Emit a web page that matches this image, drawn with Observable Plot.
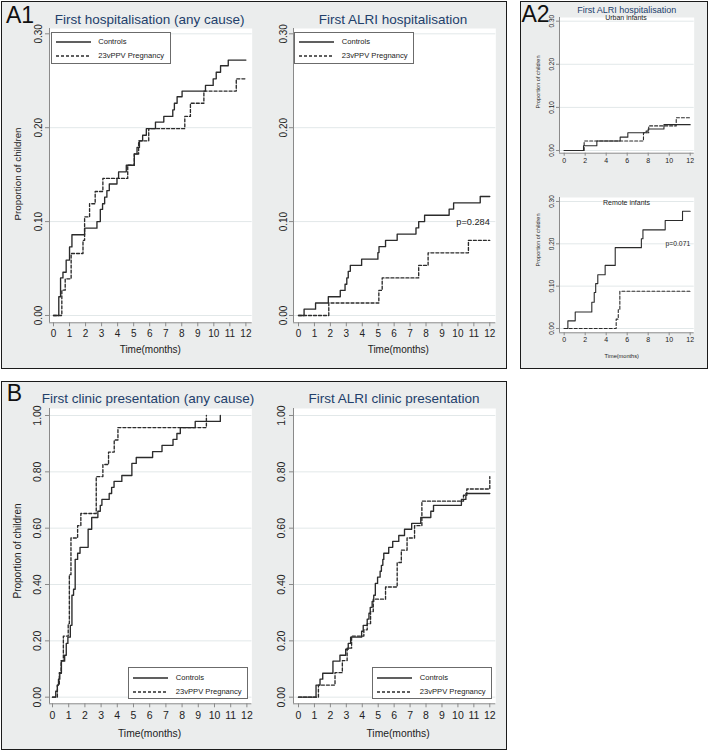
<!DOCTYPE html>
<html><head><meta charset="utf-8">
<script src="https://cdn.jsdelivr.net/npm/d3@7"></script>
<script src="https://cdn.jsdelivr.net/npm/@observablehq/plot@0.6"></script>
<style>
body{margin:0;background:#fff;}
#root{position:relative;width:709px;height:751px;overflow:hidden;font-family:"Liberation Sans",Arial,Helvetica,sans-serif;}
.box{position:absolute;box-sizing:border-box;border:1.5px solid #1b1b1b;background:#ebeded;}
.lbl{position:absolute;white-space:nowrap;line-height:1;transform:translate(-50%,-50%);}
.leg{position:absolute;box-sizing:border-box;border:1px solid #6b6b6b;background:#fff;}
#root svg{position:absolute;}
</style></head><body><div id="root"></div><script>
// ---------- data ----------
const seriesNames = ["Controls", "23vPPV Pregnancy"];
const monthTicks = [0,1,2,3,4,5,6,7,8,9,10,11,12];
const monthTicksA2 = [0,2,4,6,8,10,12];
const hospTicks = [0, 0.1, 0.2, 0.3];
const clinicTicks = [0, 0.2, 0.4, 0.6, 0.8, 1.0];
const titleA1Any = "First hospitalisation (any cause)";
const titleA1Alri = "First ALRI hospitalisation";
const titleA2 = "First ALRI hospitalisation";
const titleA2Urban = "Urban infants";
const titleA2Remote = "Remote infants";
const titleBAny = "First clinic presentation (any cause)";
const titleBAlri = "First ALRI clinic presentation";
const xLabel = "Time(months)";
const yLabel = "Proportion of children";
const pNotes = [{panel: "A1alri", text: "p=0.284", t: 12, p: 0.10}, {panel: "A2remote", text: "p=0.071", t: 12, p: 0.20}];

// [month, cumulative proportion]
const a1AnyControls = [[0,0],[0.33,0.02],[0.44,0.04],[0.59,0.046],[0.79,0.059],[1.0,0.073],[1.15,0.086],[1.94,0.093],[2.71,0.1],[2.92,0.113],[3.06,0.119],[3.19,0.126],[3.33,0.133],[3.48,0.14],[3.96,0.146],[4.06,0.153],[4.54,0.16],[5.04,0.172],[5.21,0.179],[5.36,0.186],[5.56,0.192],[5.79,0.199],[6.36,0.206],[6.88,0.212],[7.44,0.219],[7.54,0.226],[7.71,0.233],[8.02,0.239],[9.48,0.245],[9.96,0.252],[10.15,0.259],[10.42,0.266],[10.9,0.272],[12,0.272]];
const a1AnyVaccine = [[0,0],[0.52,0.027],[0.73,0.039],[1.1,0.066],[1.84,0.08],[1.94,0.105],[2.25,0.119],[2.6,0.132],[3.08,0.146],[4.63,0.16],[5.04,0.172],[5.31,0.186],[5.94,0.199],[8.19,0.212],[8.54,0.226],[9.38,0.239],[11.4,0.252],[12,0.252]];
const a1AlriControls = [[0,0],[0.35,0.0067],[1.07,0.0133],[1.87,0.02],[2.62,0.0267],[2.92,0.0333],[3.03,0.04],[3.12,0.047],[3.25,0.0533],[3.96,0.06],[4.98,0.067],[5.05,0.0733],[5.46,0.08],[6.19,0.0867],[7.37,0.0933],[7.54,0.1],[7.91,0.1067],[9.45,0.1133],[9.73,0.12],[11.4,0.1267],[12,0.1267]];
const a1AlriVaccine = [[0,0],[1.9,0.0133],[5.04,0.0267],[5.25,0.04],[7.54,0.0533],[8.13,0.0667],[10.66,0.08],[12,0.08]];
const a2UrbanControls = [[0,0],[1.84,0.011],[3.11,0.022],[5.33,0.031],[6.06,0.041],[7.8,0.045],[8.0,0.05],[9.5,0.06],[12,0.06]];
const a2UrbanVaccine = [[0,0],[1.9,0.022],[7.55,0.041],[8.05,0.057],[10.67,0.076],[12,0.076]];
const a2RemoteControls = [[0,0],[0.35,0.018],[1.05,0.039],[2.63,0.062],[2.86,0.085],[3.0,0.106],[3.2,0.127],[3.9,0.149],[4.86,0.191],[7.35,0.212],[7.5,0.233],[9.62,0.255],[11.27,0.277],[12,0.277]];
const a2RemoteVaccine = [[0,0],[4.95,0.022],[5.15,0.044],[5.3,0.088],[12,0.088]];
const bAnyControls = [[0,0],[0.2,0.021],[0.3,0.043],[0.37,0.064],[0.45,0.085],[0.55,0.128],[0.75,0.149],[0.85,0.191],[0.95,0.213],[1.1,0.255],[1.2,0.362],[1.3,0.383],[1.4,0.489],[1.55,0.511],[1.7,0.532],[2.2,0.596],[2.42,0.638],[2.8,0.66],[2.95,0.681],[3.05,0.702],[3.5,0.723],[3.65,0.745],[3.8,0.766],[4.28,0.787],[4.9,0.83],[5.17,0.851],[6.18,0.872],[6.76,0.894],[7.44,0.915],[7.68,0.936],[7.89,0.957],[8.81,0.979],[10.36,1.0]];
const bAnyVaccine = [[0,0],[0.3,0.043],[0.42,0.087],[0.53,0.13],[0.67,0.217],[0.97,0.261],[1.04,0.435],[1.14,0.565],[1.55,0.609],[1.75,0.652],[2.7,0.783],[3.11,0.826],[3.46,0.87],[3.81,0.913],[4.04,0.957],[9.5,1.0]];
const bAlriControls = [[0,0],[1.1,0.043],[1.35,0.064],[1.52,0.085],[2.16,0.128],[2.6,0.149],[2.96,0.17],[3.12,0.191],[3.27,0.213],[3.96,0.234],[4.06,0.255],[4.31,0.277],[4.42,0.298],[4.5,0.319],[4.62,0.34],[4.72,0.362],[4.82,0.404],[4.96,0.426],[5.12,0.447],[5.2,0.468],[5.29,0.489],[5.35,0.511],[5.66,0.532],[5.91,0.553],[6.29,0.574],[6.65,0.596],[7.1,0.617],[7.67,0.638],[8.3,0.66],[8.47,0.681],[10.22,0.702],[10.5,0.723],[12,0.723]];
const bAlriVaccine = [[0,0],[1.25,0.043],[2.29,0.087],[2.75,0.13],[3.05,0.174],[3.33,0.217],[4.1,0.239],[4.31,0.261],[4.52,0.304],[4.69,0.348],[5.46,0.391],[6.19,0.478],[6.45,0.522],[6.81,0.565],[7.28,0.609],[7.74,0.696],[10.35,0.717],[10.56,0.739],[12,0.783]];

// ---------- layout helpers ----------
const root = document.getElementById("root");
const FONT = '"Liberation Sans", Arial, Helvetica, sans-serif';
const NAVY = "#22406b";

function addBox(l, t, w, h) {
  const d = document.createElement("div");
  d.className = "box";
  Object.assign(d.style, {left: l + "px", top: t + "px", width: w + "px", height: h + "px"});
  root.append(d);
}
function addLabel(text, cx, cy, size, opts = {}) {
  const d = document.createElement("div");
  d.className = "lbl";
  d.textContent = text;
  d.style.left = cx + "px";
  d.style.top = cy + "px";
  d.style.fontSize = size + "px";
  d.style.color = opts.color || "#222";
  if (opts.rotate) d.style.transform = "translate(-50%,-50%) rotate(-90deg)";
  root.append(d);
}
function addLegend(l, t) {
  const w = 120, h = 32;
  const d = document.createElement("div");
  d.className = "leg";
  Object.assign(d.style, {left: l + "px", top: t + "px", width: w + "px", height: h + "px"});
  const rows = [9.5, 23.5];
  seriesNames.forEach((name, i) => {
    const ns = "http://www.w3.org/2000/svg";
    const s = document.createElementNS(ns, "svg");
    s.setAttribute("width", 36); s.setAttribute("height", 4);
    s.style.position = "absolute"; s.style.left = "4px"; s.style.top = (rows[i] - 2) + "px";
    const ln = document.createElementNS(ns, "line");
    ln.setAttribute("x1", 0); ln.setAttribute("x2", 35); ln.setAttribute("y1", 2); ln.setAttribute("y2", 2);
    ln.setAttribute("stroke", "#2b2b2b"); ln.setAttribute("stroke-width", 1.4);
    if (i === 1) ln.setAttribute("stroke-dasharray", "3,2");
    s.append(ln); d.append(s);
    const tx = document.createElement("div");
    tx.textContent = name;
    Object.assign(tx.style, {position: "absolute", left: "46.5px", top: rows[i] + "px", transform: "translateY(-50%)", fontSize: "7.6px", lineHeight: "1", color: "#222", whiteSpace: "nowrap"});
    d.append(tx);
  });
  root.append(d);
}

function kmPanel(cfg) {
  const {reg, x0, x12, y0, yRefPx, yRefVal, xTicks, yTicks, controls, vaccine, fsX, fsY, tickSize, padX, padY, lw, note, noteSize} = cfg;
  const pxM = (x12 - x0) / 12, pxV = (y0 - yRefPx) / yRefVal;
  const xDom = [(reg.l - x0) / pxM, (reg.r - x0) / pxM];
  const yDom = [(y0 - reg.b) / pxV, (y0 - reg.t) / pxV];
  const m = {l: 34, r: 6, t: 4, b: 24};
  const w = reg.r - reg.l + m.l + m.r, h = reg.b - reg.t + m.t + m.b;
  const marks = [
    Plot.frame({fill: "white", stroke: "none"}),
    Plot.ruleY(yTicks, {stroke: "#e2e8e9", strokeWidth: 1}),
    Plot.line(controls, {x: d => d[0], y: d => d[1], curve: "step-after", stroke: "#2b2b2b", strokeWidth: lw}),
    Plot.line(vaccine, {x: d => d[0], y: d => d[1], curve: "step-after", stroke: "#2b2b2b", strokeWidth: lw, strokeDasharray: "3,2"}),
    Plot.ruleX([xDom[0]], {stroke: "#8a8a8a"}),
    Plot.ruleY([yDom[0]], {stroke: "#8a8a8a"}),
    Plot.axisY(yTicks, {anchor: "left", tickSize, tickPadding: padY, tickRotate: -90, tickFormat: d3.format(".2f"), fontSize: fsY, stroke: "#8a8a8a", fill: "#222", label: null}),
    Plot.axisX(xTicks, {anchor: "bottom", tickSize, tickPadding: padX, tickFormat: d => String(d), fontSize: fsX, stroke: "#8a8a8a", fill: "#222", label: null})
  ];
  if (note) marks.push(Plot.text(pNotes.filter(n => n.panel === note), {x: "t", y: "p", text: "text", textAnchor: "end", fontSize: noteSize, fill: "#222"}));
  const svg = Plot.plot({
    width: w, height: h, marginLeft: m.l, marginRight: m.r, marginTop: m.t, marginBottom: m.b,
    x: {domain: xDom, label: null}, y: {domain: yDom, label: null},
    style: {fontFamily: FONT, background: "transparent", overflow: "visible", color: "#222"},
    marks
  });
  svg.style.left = (reg.l - m.l) + "px";
  svg.style.top = (reg.t - m.t) + "px";
  root.append(svg);
}

// ---------- boxes ----------
addBox(1, 1, 506, 368);
addBox(520, 1, 188, 368);
addBox(1, 381, 506, 369);

// ---------- panels ----------
const big = {fsX: 10, fsY: 10, tickSize: 4, padX: 3, padY: 3, lw: 1.35};
kmPanel({...big, reg: {l: 49.3, r: 252, t: 28, b: 322.3}, x0: 53.3, x12: 245.7, y0: 315, yRefPx: 33.3, yRefVal: 0.3,
  xTicks: monthTicks, yTicks: hospTicks, controls: a1AnyControls, vaccine: a1AnyVaccine});
kmPanel({...big, reg: {l: 292.7, r: 495, t: 28, b: 322.3}, x0: 297.7, x12: 489, y0: 315, yRefPx: 33.3, yRefVal: 0.3,
  xTicks: monthTicks, yTicks: hospTicks, controls: a1AlriControls, vaccine: a1AlriVaccine, note: "A1alri", noteSize: 9.2});
const small = {fsX: 7, fsY: 6.5, tickSize: 3, padX: 1.5, padY: 2.5, lw: 1.1};
kmPanel({...small, reg: {l: 559.3, r: 694, t: 17, b: 152.7}, x0: 564, x12: 690, y0: 150, yRefPx: 20.7, yRefVal: 0.3,
  xTicks: monthTicksA2, yTicks: hospTicks, controls: a2UrbanControls, vaccine: a2UrbanVaccine});
kmPanel({...small, reg: {l: 559.3, r: 694, t: 197, b: 332.3}, x0: 564, x12: 690, y0: 328, yRefPx: 201, yRefVal: 0.3,
  xTicks: monthTicksA2, yTicks: hospTicks, controls: a2RemoteControls, vaccine: a2RemoteVaccine, note: "A2remote", noteSize: 6.8});
const bigB = {fsX: 10.5, fsY: 10.5, tickSize: 4, padX: 4, padY: 5, lw: 1.35};
kmPanel({...bigB, reg: {l: 49.3, r: 251.7, t: 408, b: 703.3}, x0: 52.3, x12: 246.7, y0: 696.7, yRefPx: 415, yRefVal: 1,
  xTicks: monthTicks, yTicks: clinicTicks, controls: bAnyControls, vaccine: bAnyVaccine});
kmPanel({...bigB, reg: {l: 292.7, r: 495, t: 408, b: 703.3}, x0: 297.7, x12: 489, y0: 696.7, yRefPx: 415, yRefVal: 1,
  xTicks: monthTicks, yTicks: clinicTicks, controls: bAlriControls, vaccine: bAlriVaccine});

// ---------- text ----------
addLabel("A1", 20, 15, 23, {color: "#111"});
addLabel("A2", 535.5, 13.5, 23, {color: "#111"});
addLabel("B", 14.5, 393.3, 23, {color: "#111"});
addLabel(titleA1Any, 149.7, 19.5, 13.5, {color: NAVY});
addLabel(titleA1Alri, 393, 19.5, 13.5, {color: NAVY});
addLabel(titleA2, 626.7, 10, 9, {color: NAVY});
addLabel(titleA2Urban, 626, 16.5, 7);
addLabel(titleA2Remote, 626.5, 201.5, 7);
addLabel(titleBAny, 148, 398.5, 13.5, {color: NAVY});
addLabel(titleBAlri, 394, 398.5, 13.5, {color: NAVY});
addLabel(xLabel, 150.3, 350, 10);
addLabel(xLabel, 398.3, 350, 10);
addLabel(xLabel, 621.7, 357, 5.6);
addLabel(xLabel, 149.5, 734, 10.3);
addLabel(xLabel, 398, 734, 10.3);
addLabel(yLabel, 17.8, 174, 9.8, {rotate: true});
addLabel(yLabel, 18.3, 551, 10, {rotate: true});
addLabel(yLabel, 539, 82, 5.6, {rotate: true});
addLabel(yLabel, 539, 240, 5.6, {rotate: true});

// ---------- legends ----------
addLegend(50.7, 31.7);
addLegend(294.3, 31.7);
addLegend(128.3, 667);
addLegend(372.3, 667);
</script></body></html>
